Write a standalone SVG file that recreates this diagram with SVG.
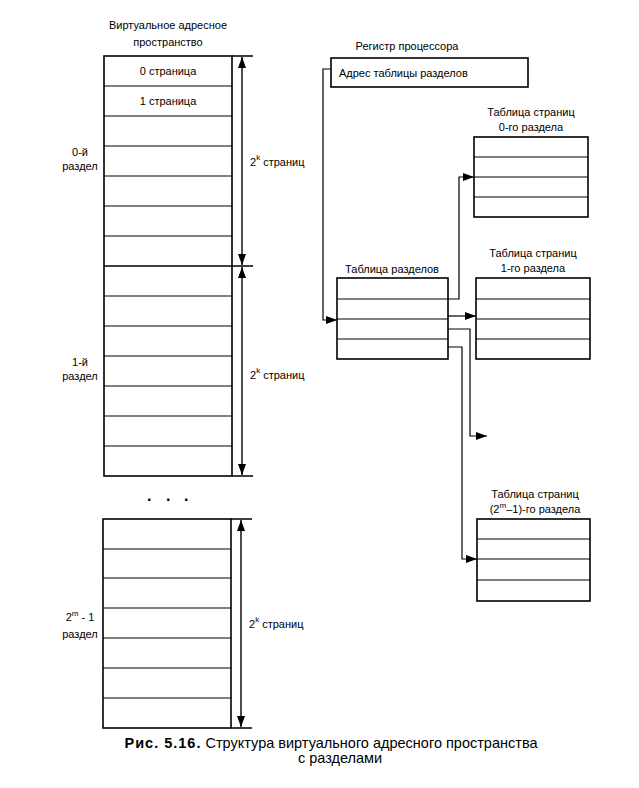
<svg xmlns="http://www.w3.org/2000/svg" width="639" height="788" viewBox="0 0 639 788">
<defs>
<marker id="ah" viewBox="0 0 11 8" refX="11" refY="4" markerWidth="11" markerHeight="8" markerUnits="userSpaceOnUse" orient="auto-start-reverse">
<path d="M0,0 L11,4 L0,8 Z" fill="#000"/>
</marker>
</defs>
<style>
text{font-family:"Liberation Sans",Arial,sans-serif;font-size:11px;fill:#000}
.c{text-anchor:middle}
.box{fill:#fff;stroke:#000;stroke-width:1.6}
.row{stroke:#000;stroke-width:1}
.ln{fill:none;stroke:#000;stroke-width:1.2}
.dim{fill:none;stroke:#000;stroke-width:1.4}
.cap{font-size:14.5px}
</style>
<rect width="639" height="788" fill="#fff"/>

<g id="vas">
<text class="c" x="168" y="29">Виртуальное адресное</text>
<text class="c" x="168" y="46">пространство</text>
<rect class="box" x="104" y="56" width="128" height="420"/>
<path class="row" d="M104 86H232M104 116H232M104 146H232M104 176H232M104 206H232M104 236H232M104 296H232M104 326H232M104 356H232M104 386H232M104 416H232M104 446H232"/>
<path d="M104 266H232" stroke="#000" stroke-width="1.6"/>
<text class="c" x="168" y="75">0 страница</text>
<text class="c" x="168" y="105">1 страница</text>
<rect class="box" x="103" y="519" width="128" height="209"/>
<path class="row" d="M103 549H231M103 578H231M103 608H231M103 638H231M103 668H231M103 698H231"/>
<text x="147 166 184" y="501" style="font-size:16px;font-weight:bold">...</text>
</g>

<g id="sec0"><text class="c" x="80" y="156">0-й</text><text class="c" x="80" y="170">раздел</text></g>
<g id="sec1"><text class="c" x="80" y="366">1-й</text><text class="c" x="80" y="380">раздел</text></g>
<g id="secm"><text class="c" x="80" y="621">2<tspan dy="-5" font-size="8">m</tspan><tspan dy="5"> - 1</tspan></text><text class="c" x="80" y="638">раздел</text></g>

<g id="dims">
<path class="dim" d="M232 56H253M232 266H253M232 476H253M231 519H252M231 728H252"/>
<line class="dim" x1="242" y1="57" x2="242" y2="265" marker-start="url(#ah)" marker-end="url(#ah)"/>
<line class="dim" x1="242" y1="267" x2="242" y2="475" marker-start="url(#ah)" marker-end="url(#ah)"/>
<line class="dim" x1="241" y1="520" x2="241" y2="727" marker-start="url(#ah)" marker-end="url(#ah)"/>
<text x="250" y="166">2<tspan dy="-6" font-size="8">k</tspan><tspan dy="6"> страниц</tspan></text>
<text x="250" y="379">2<tspan dy="-6" font-size="8">k</tspan><tspan dy="6"> страниц</tspan></text>
<text x="249" y="628">2<tspan dy="-6" font-size="8">k</tspan><tspan dy="6"> страниц</tspan></text>
</g>

<g id="register">
<text class="c" x="407" y="50">Регистр процессора</text>
<rect class="box" x="331" y="58" width="197" height="29"/>
<text x="339" y="77">Адрес таблицы разделов</text>
</g>

<g id="sections">
<text class="c" x="392" y="273">Таблица разделов</text>
<rect class="box" x="337" y="278" width="111" height="81"/>
<path class="row" d="M337 299H448M337 319H448M337 339H448"/>
</g>

<g id="pt0">
<text class="c" x="531" y="116">Таблица страниц</text>
<text class="c" x="531" y="131">0-го раздела</text>
<rect class="box" x="474" y="137" width="114" height="80"/>
<path class="row" d="M474 157H588M474 177H588M474 197H588"/>
</g>

<g id="pt1">
<text class="c" x="533" y="257">Таблица страниц</text>
<text class="c" x="533" y="272">1-го раздела</text>
<rect class="box" x="476" y="278" width="114" height="81"/>
<path class="row" d="M476 299H590M476 319H590M476 339H590"/>
</g>

<g id="ptm">
<text class="c" x="535" y="498">Таблица страниц</text>
<text class="c" x="535" y="513">(2<tspan dy="-5" font-size="8">m</tspan><tspan dy="5">–1)-го раздела</tspan></text>
<rect class="box" x="477" y="519" width="113" height="82"/>
<path class="row" d="M477 539H590M477 559H590M477 580H590"/>
</g>

<g id="connectors">
<path class="ln" d="M331 69H323V320H337" marker-end="url(#ah)"/>
<path class="ln" d="M448 299H459V177H474" marker-end="url(#ah)"/>
<path class="ln" d="M448 316H476" marker-end="url(#ah)"/>
<path class="ln" d="M448 329H470V436H487" marker-end="url(#ah)"/>
<path class="ln" d="M448 347H462V559H477" marker-end="url(#ah)"/>
</g>

<g id="caption">
<text class="c cap" x="331" y="748"><tspan font-weight="bold" letter-spacing="1">Рис. 5.16.</tspan> Структура виртуального адресного пространства</text>
<text class="c cap" x="340" y="763">с разделами</text>
</g>
</svg>
